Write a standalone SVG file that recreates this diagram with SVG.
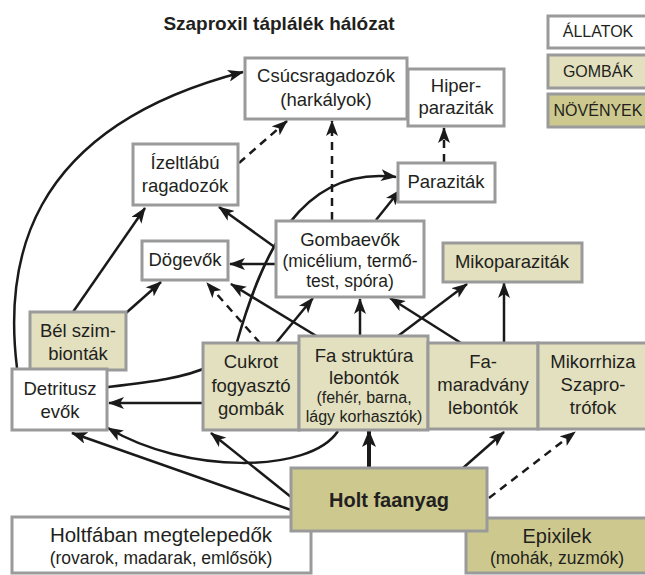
<svg xmlns="http://www.w3.org/2000/svg" width="645" height="575" viewBox="0 0 645 575">
<defs>
<style>
.bx{stroke:#9a9a9a;stroke-width:3}
.a{fill:#fff}
.g{fill:#e2e0be}
.n{fill:#cdc98e}
text{font-family:"Liberation Sans",Arial,sans-serif;fill:#231f20;text-anchor:middle}
.t{font-size:18.5px}
.s{font-size:16px}
.m{font-size:17.5px}
.lg{font-size:16px}
.c{fill:none;stroke:#1a1a1a;stroke-width:2.5}
.d{stroke-dasharray:8 6}
</style>
<marker id="ah" markerUnits="userSpaceOnUse" markerWidth="17" markerHeight="12" refX="15" refY="6" orient="auto">
<path d="M0,0 L16,6 L0,12 L4,6 Z" fill="#1a1a1a"/>
</marker>
<marker id="ahb" markerUnits="userSpaceOnUse" markerWidth="18" markerHeight="14" refX="16" refY="7" orient="auto">
<path d="M0,0 L17,7 L0,14 L4,7 Z" fill="#1a1a1a"/>
</marker>
</defs>
<rect width="645" height="575" fill="#fff"/>
<text x="279" y="30" style="font-size:19px;font-weight:bold">Szaproxil táplálék hálózat</text>

<g id="connectors">
<path class="c" d="M17,368 C5,270 20,130 243,72" marker-end="url(#ah)"/>
<path class="c d" d="M239,163 L287,121" marker-end="url(#ah)"/>
<path class="c d" d="M332,220 L332,121" marker-end="url(#ah)"/>
<path class="c d" d="M444,162 L444,128" marker-end="url(#ah)"/>
<path class="c" d="M237,342 C262,255 300,165 396,177" marker-end="url(#ah)"/>
<path class="c" d="M376,220 L400,190" marker-end="url(#ah)"/>
<path class="c" d="M276,248 L219,207" marker-end="url(#ah)"/>
<path class="c" d="M276,264 L230,264" marker-end="url(#ah)"/>
<path class="c" d="M73,312 L145,208" marker-end="url(#ah)"/>
<path class="c" d="M126,313 L161,282" marker-end="url(#ah)"/>
<path class="c d" d="M260,343 L207,283" marker-end="url(#ah)"/>
<path class="c" d="M318,337 L231,284" marker-end="url(#ah)"/>
<path class="c" d="M276,343 L313,298" marker-end="url(#ah)"/>
<path class="c" d="M360,336 L360,299" marker-end="url(#ah)"/>
<path class="c" d="M398,336 L467,284" marker-end="url(#ah)"/>
<path class="c" d="M461,343 L390,298" marker-end="url(#ah)"/>
<path class="c" d="M504,343 L504,283" marker-end="url(#ah)"/>
<path class="c" style="stroke-width:4" d="M369,468 L369,431" marker-end="url(#ahb)"/>
<path class="c" d="M463,468 L504,432" marker-end="url(#ah)"/>
<path class="c d" d="M489,498 L575,432" marker-end="url(#ah)"/>
<path class="c" d="M291,497 L211,433" marker-end="url(#ah)"/>
<path class="c" d="M291,510 L72,433" marker-end="url(#ah)"/>
<path class="c" d="M338,431 C310,474 185,474 108,428" marker-end="url(#ah)"/>
<path class="c" d="M203,403 L109,403" marker-end="url(#ah)"/>
<path class="c" d="M108,387 C150,382 185,378 210,366"/>
</g>

<g id="legend-allatok"><rect class="bx a" x="548" y="16" width="100" height="32"/><text class="lg" x="598" y="37">ÁLLATOK</text></g>
<g id="legend-gombak"><rect class="bx g" x="548" y="55" width="100" height="33"/><text class="lg" x="598" y="77">GOMBÁK</text></g>
<g id="legend-novenyek"><rect class="bx n" x="548" y="94" width="100" height="33"/><text class="lg" x="598" y="116">NÖVÉNYEK</text></g>

<g id="csucsragadozok"><rect class="bx a" x="245" y="58" width="162" height="61"/><text class="t" x="326" y="82">Csúcsragadozók</text><text class="t" x="326" y="106">(harkályok)</text></g>
<g id="hiperparazitak"><rect class="bx a" x="408" y="69" width="96" height="57"/><text class="t" x="456" y="92">Hiper-</text><text class="t" x="456" y="114">paraziták</text></g>
<g id="parazitak"><rect class="bx a" x="398" y="163" width="97" height="39"/><text class="t" x="446" y="188">Paraziták</text></g>
<g id="izeltlabu"><rect class="bx a" x="133" y="144" width="105" height="61"/><text class="t" x="185" y="169">Ízeltlábú</text><text class="t" x="185" y="192">ragadozók</text></g>
<g id="dogevok"><rect class="bx a" x="142" y="241" width="86" height="39"/><text class="t" x="185" y="266">Dögevők</text></g>
<g id="gombaevok"><rect class="bx a" x="276" y="221" width="148" height="76"/><text class="t" x="350" y="246">Gombaevők</text><text class="m" x="350" y="267">(micélium, termő-</text><text class="m" x="350" y="287">test, spóra)</text></g>
<g id="mikoparazitak"><rect class="bx g" x="443" y="243" width="139" height="39"/><text class="t" x="512" y="268">Mikoparaziták</text></g>
<g id="belszimbiontak"><rect class="bx g" x="30" y="312" width="96" height="58"/><text class="t" x="78" y="337">Bél szim-</text><text class="t" x="78" y="360">bionták</text></g>
<g id="detrituszevok"><rect class="bx a" x="12" y="369" width="95" height="61"/><text class="t" x="60" y="395">Detritusz</text><text class="t" x="60" y="418">evők</text></g>
<g id="cukrot"><rect class="bx g" x="203" y="343" width="96" height="87"/><text class="t" x="251" y="368">Cukrot</text><text class="t" x="251" y="392">fogyasztó</text><text class="t" x="251" y="415">gombák</text></g>
<g id="fastruktura"><rect class="bx g" x="299" y="336" width="129" height="94"/><text class="t" x="364" y="362">Fa struktúra</text><text class="t" x="364" y="384">lebontók</text><text class="s" x="364" y="403">(fehér, barna,</text><text class="s" x="364" y="422">lágy korhasztók)</text></g>
<g id="famaradvany"><rect class="bx g" x="428" y="343" width="110" height="86"/><text class="t" x="483" y="368">Fa-</text><text class="t" x="483" y="391">maradvány</text><text class="t" x="483" y="414">lebontók</text></g>
<g id="mikorrhiza"><rect class="bx g" x="538" y="343" width="110" height="86"/><text class="t" x="593" y="368">Mikorrhiza</text><text class="t" x="593" y="391">Szapro-</text><text class="t" x="593" y="414">trófok</text></g>
<g id="epixilek"><rect class="bx n" x="466" y="518" width="184" height="55"/><text style="font-size:20px" x="557" y="543">Epixilek</text><text class="m" x="557" y="564">(mohák, zuzmók)</text></g>
<g id="holtfaban"><rect class="bx a" x="12" y="517" width="299" height="56"/><text style="font-size:20.5px" x="161" y="542">Holtfában megtelepedők</text><text class="m" x="161" y="564">(rovarok, madarak, emlősök)</text></g>
<g id="holtfaanyag"><rect class="bx n" x="291" y="468" width="196" height="63"/><text style="font-size:20px;font-weight:bold" x="389" y="507">Holt faanyag</text></g>
</svg>
